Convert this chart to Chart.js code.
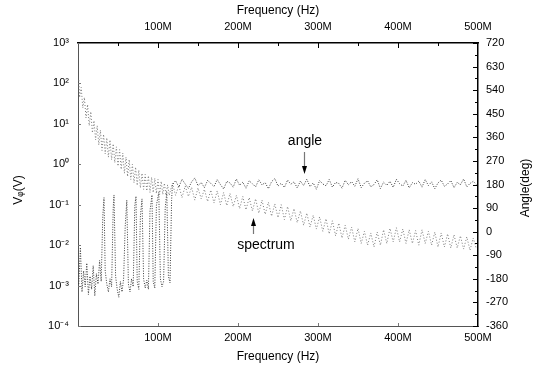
<!DOCTYPE html>
<html>
<head>
<meta charset="utf-8">
<script src="https://cdn.jsdelivr.net/npm/chart.js@4/dist/chart.umd.min.js"></script>
<style>
    html, body { margin: 0; padding: 0; background: #fff; }
    #wrap { width: 544px; height: 369px; }
</style>
</head>
<body>
<div id="wrap"><canvas id="chart" width="544" height="369"></canvas></div>
<script>
// frequencies in MHz
const lowAngleFreq = [1, 3, 5, 7, 9, 11, 13, 15, 17, 19, 21, 23, 25, 27, 29, 31, 32.5, 34, 36, 38, 40, 42, 44, 45, 47, 49,
    51, 53, 55, 57, 59, 61, 63, 65, 67, 69, 71, 72.5, 74, 76, 78, 80, 82, 84, 86, 88, 90, 92.5, 94, 96, 98, 101,
    103, 105, 107, 109, 111, 113, 115, 117];
const lowAngleDeg = [-200, -60, -230, -150, -210, -120, -240, -170, -220, -130, -245, -160, -200, -110, -190, 60, 130, -150, -200, -230, -180, -210, 90, 140, -170, -220,
    -250, -190, -230, -180, 20, 120, -200, -230, -180, -210, 100, 135, -190, -220, 60, 125, -180, -215, -185, -220, 80, 140, -190, -215, 100, 150,
    -180, -210, -190, 90, 150, -170, -195, 120];

const lowSpecFreq = [1, 2, 4, 6, 8, 10, 12, 14, 16, 18, 20, 22, 24, 26, 28, 30, 32, 34, 36, 38, 40, 42, 44, 46, 48, 50,
    52, 54, 56, 58, 60, 62, 64, 66, 68, 70, 72, 74, 76, 78, 80, 82, 84, 86, 88, 90, 92, 94, 96, 98, 100,
    102, 104, 106, 108, 110, 112, 114];
const lowSpecVal = [120, 45, 80, 25, 45, 14, 30, 9, 20, 6, 12, 4, 9, 3, 7, 2.2, 5.5, 1.8, 4.5, 1.5, 4, 1.3, 3.2, 1.1, 2.7, 0.9,
    2.3, 0.75, 1.9, 0.6, 1.5, 0.5, 1.3, 0.42, 1.0, 0.35, 0.85, 0.3, 0.72, 0.26, 0.6, 0.24, 0.56, 0.22, 0.52, 0.2, 0.48, 0.2, 0.45, 0.19, 0.42,
    0.18, 0.38, 0.18, 0.34, 0.17, 0.31, 0.17];

const tailFreq = [118, 122, 126, 130, 134, 138, 142, 146, 150, 154, 158, 162, 166, 170, 174, 178, 182, 186, 190, 194,
    198, 202, 206, 210, 214, 218, 222, 226, 230, 234, 238, 242, 246, 250, 254, 258, 262, 266, 270, 274,
    278, 282, 286, 290, 294, 298, 302, 306, 310, 314, 318, 322, 326, 330, 334, 338, 342, 346, 350, 354,
    358, 362, 366, 370, 374, 378, 382, 386, 390, 394, 398, 402, 406, 410, 414, 418, 422, 426, 430, 434,
    438, 442, 446, 450, 454, 458, 462, 466, 470, 474, 478, 482, 486, 490, 494, 498];
const tailAngleDeg = [178, 195, 170, 200, 182, 165, 190, 205, 175, 188, 168, 196, 184, 172, 199, 180, 163, 192, 186, 170,
    201, 177, 189, 166, 194, 183, 171, 198, 179, 187, 164, 191, 203, 174, 185, 169, 197, 181, 190, 167,
    193, 176, 200, 172, 186, 162, 195, 182, 175, 199, 170, 188, 184, 166, 196, 179, 191, 173, 202, 168,
    185, 194, 171, 180, 198, 165, 189, 177, 192, 169, 200, 183, 174, 196, 167, 187, 181, 193, 170, 199,
    176, 190, 164, 186, 197, 173, 182, 195, 168, 188, 179, 201, 171, 184, 192, 180];
const tailSpecVal = [0.34, 0.17, 0.3, 0.15, 0.29, 0.16, 0.27, 0.13, 0.26, 0.14,
    0.24, 0.12, 0.23, 0.11, 0.22, 0.1, 0.2, 0.095, 0.19, 0.09,
    0.17, 0.08, 0.16, 0.075, 0.15, 0.07, 0.14, 0.062, 0.13, 0.058,
    0.115, 0.052, 0.105, 0.048, 0.1, 0.043, 0.09, 0.04, 0.08, 0.036,
    0.07, 0.031, 0.062, 0.028, 0.055, 0.025, 0.05, 0.022, 0.045, 0.019,
    0.04, 0.017, 0.035, 0.015, 0.031, 0.014, 0.028, 0.012, 0.026, 0.011,
    0.022, 0.01, 0.02, 0.009, 0.021, 0.01, 0.024, 0.011, 0.026, 0.012,
    0.027, 0.012, 0.025, 0.011, 0.024, 0.011, 0.023, 0.01, 0.024, 0.011,
    0.022, 0.01, 0.021, 0.009, 0.02, 0.009, 0.019, 0.0085, 0.018, 0.0085,
    0.017, 0.008, 0.016, 0.0075, 0.015, 0.008];

const freqTicks = [100, 200, 300, 400, 500];
const decadeTicks = [1e-4, 1e-3, 1e-2, 1e-1, 1e0, 1e1, 1e2, 1e3];
const decadeLabels = ['10\u207B\u2074', '10\u207B\u00B3', '10\u207B\u00B2', '10\u207B\u00B9', '10\u2070', '10\u00B9', '10\u00B2', '10\u00B3'];
const angleTicks = [-360, -270, -180, -90, 0, 90, 180, 270, 360, 450, 540, 630, 720];

const FONT = '"Liberation Sans", Arial, sans-serif';

const toPoints = (xs, ys) => xs.map((x, i) => ({ x: x, y: ys[i] }));
const specPoints = toPoints(lowSpecFreq.concat(tailFreq), lowSpecVal.concat(tailSpecVal));
const anglePoints = toPoints(lowAngleFreq.concat(tailFreq), lowAngleDeg.concat(tailAngleDeg));

const fixSize = (w, h) => (scale) => {
    if (w) scale.width = w;
    if (h) scale.height = h;
};

// inward tick marks, axis titles and the two callouts
const decorations = {
    id: 'decorations',
    afterDraw(chart) {
        const { ctx, chartArea: a, scales } = chart;
        ctx.save();
        ctx.strokeStyle = '#000';
        ctx.lineWidth = 1;
        ctx.beginPath();
        for (let v = -360; v <= 720; v += 45) {
            const y = Math.round(scales.y1.getPixelForValue(v)) + 0.5;
            const len = v % 90 === 0 ? 5 : 3;
            ctx.moveTo(a.right, y);
            ctx.lineTo(a.right - len, y);
        }
        for (let v = 50; v < 500; v += 50) {
            const x = Math.round(scales.x.getPixelForValue(v)) + 0.5;
            const len = v % 100 === 0 ? 5 : 3;
            ctx.moveTo(x, a.top);
            ctx.lineTo(x, a.top + len);
        }
        ctx.stroke();
        ctx.strokeStyle = '#777';
        ctx.beginPath();
        for (let v = 100; v < 500; v += 100) {
            const x = Math.round(scales.x.getPixelForValue(v)) + 0.5;
            ctx.moveTo(x, a.bottom);
            ctx.lineTo(x, a.bottom - 3);
        }
        decadeTicks.forEach((v) => {
            const y = Math.round(scales.y.getPixelForValue(v)) + 0.5;
            ctx.moveTo(a.left, y);
            ctx.lineTo(a.left + 3, y);
        });
        ctx.stroke();

        ctx.fillStyle = '#000';
        ctx.textAlign = 'center';
        ctx.textBaseline = 'middle';
        ctx.font = '12px ' + FONT;
        const midX = (a.left + a.right) / 2;
        ctx.fillText('Frequency (Hz)', midX, 11);
        ctx.fillText('Frequency (Hz)', midX, 357);

        ctx.save();
        ctx.translate(19, 190);
        ctx.rotate(-Math.PI / 2);
        ctx.fillText('V\u1D69(V)', 0, 0);
        ctx.restore();

        ctx.save();
        ctx.translate(526, 188);
        ctx.rotate(-Math.PI / 2);
        ctx.fillText('Angle(deg)', 0, 0);
        ctx.restore();

        ctx.font = '14px ' + FONT;
        ctx.fillText('angle', 305, 141);
        ctx.fillText('spectrum', 266, 245);

        ctx.lineWidth = 1.2;
        ctx.beginPath();
        ctx.moveTo(304.5, 152);
        ctx.lineTo(304.5, 168);
        ctx.moveTo(253.5, 234);
        ctx.lineTo(253.5, 224);
        ctx.stroke();
        ctx.beginPath();
        ctx.moveTo(302, 166);
        ctx.lineTo(307, 166);
        ctx.lineTo(304.5, 174);
        ctx.closePath();
        ctx.moveTo(251, 226);
        ctx.lineTo(256, 226);
        ctx.lineTo(253.5, 218);
        ctx.closePath();
        ctx.fill();
        ctx.restore();
    },
};

new Chart(document.getElementById('chart'), {
    type: 'line',
    data: {
        datasets: [
            {
                label: 'spectrum',
                data: specPoints,
                yAxisID: 'y',
                borderColor: '#7a7a7a',
                borderWidth: 1,
                borderDash: [1, 2],
                pointRadius: 0,
                tension: 0,
            },
            {
                label: 'angle',
                data: anglePoints,
                yAxisID: 'y1',
                borderColor: '#3a3a3a',
                borderWidth: 1,
                borderDash: [1, 1.5],
                pointRadius: 0,
                tension: 0,
            },
        ],
    },
    options: {
        responsive: false,
        animation: false,
        layout: { padding: 0 },
        plugins: {
            legend: { display: false },
            tooltip: { enabled: false },
        },
        scales: {
            x: {
                type: 'linear',
                position: 'bottom',
                min: 0,
                max: 500,
                afterFit: fixSize(null, 43),
                afterBuildTicks: (s) => { s.ticks = freqTicks.map((v) => ({ value: v })); },
                grid: { display: false, drawTicks: false },
                border: { display: true, color: '#555', width: 1, dash: [1, 2] },
                ticks: {
                    padding: 5,
                    maxRotation: 0,
                    color: '#000',
                    font: { family: FONT, size: 11 },
                    callback: (v) => v + 'M',
                },
            },
            xTop: {
                type: 'linear',
                position: 'top',
                min: 0,
                max: 500,
                afterFit: fixSize(null, 43),
                afterBuildTicks: (s) => { s.ticks = freqTicks.map((v) => ({ value: v })); },
                grid: { display: false, drawTicks: false },
                border: { display: true, color: '#000', width: 1.5 },
                ticks: {
                    padding: 9,
                    maxRotation: 0,
                    color: '#000',
                    font: { family: FONT, size: 11 },
                    callback: (v) => v + 'M',
                },
            },
            y: {
                type: 'logarithmic',
                position: 'left',
                min: 1e-4,
                max: 1e3,
                afterFit: fixSize(78, null),
                afterBuildTicks: (s) => { s.ticks = decadeTicks.map((v) => ({ value: v })); },
                grid: { display: false, drawTicks: false },
                border: { display: true, color: '#555', width: 1, dash: [1, 2] },
                ticks: {
                    padding: 9,
                    color: '#000',
                    font: { family: FONT, size: 11 },
                    callback: (v) => decadeLabels[decadeTicks.findIndex((d) => Math.abs(Math.log10(d) - Math.log10(v)) < 1e-6)],
                },
            },
            y1: {
                type: 'linear',
                position: 'right',
                min: -360,
                max: 720,
                afterFit: fixSize(66, null),
                afterBuildTicks: (s) => { s.ticks = angleTicks.map((v) => ({ value: v })); },
                grid: { display: false, drawTicks: false },
                border: { display: true, color: '#000', width: 1.5 },
                ticks: {
                    padding: 8,
                    color: '#000',
                    font: { family: FONT, size: 11 },
                },
            },
        },
    },
    plugins: [decorations],
});
</script>
</body>
</html>
